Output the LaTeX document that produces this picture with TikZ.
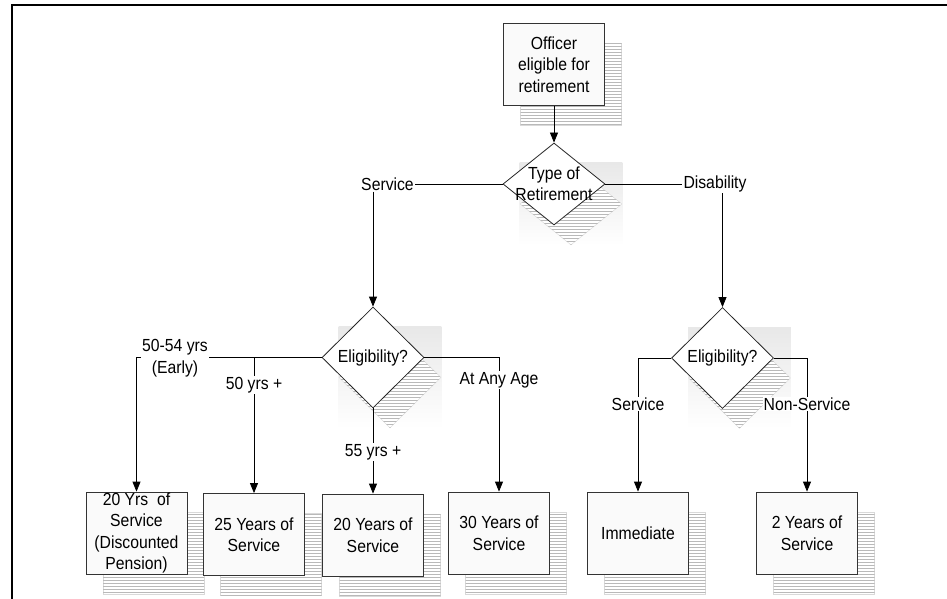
\documentclass[tikz,border=0pt]{standalone}
\usepackage{fontspec}
\setmainfont{Liberation Sans}[FakeStretch=0.9]
\usepackage{tikz}
\usetikzlibrary{shapes.geometric,shadows,patterns,arrows.meta,backgrounds,calc}

\begin{document}
\begin{tikzpicture}[x=1pt,y=-1pt,font=\fontsize{17.5}{21.5}\selectfont,
		hatch_shadow/.style={general shadow={shadow xshift=17pt,shadow yshift=-20pt,fill=white,draw=gray!30,line width=0.4pt},
			general shadow={shadow xshift=17pt,shadow yshift=-20pt,pattern=horizontal lines,pattern color=gray!55}},
		box_style/.style={rectangle,draw=black!80,line width=0.8pt,fill=gray!4,minimum width=101pt,minimum height=82pt,inner sep=0pt,align=center,hatch_shadow},
		dia_style/.style={diamond,draw=black!85,line width=0.8pt,fill=white,minimum width=102pt,minimum height=101pt,inner sep=0pt,hatch_shadow},
		label_style/.style={fill=white,inner sep=1pt,align=center},
		edge_style/.style={draw=black,line width=0.8pt},
		arrow_style/.style={edge_style,-{Triangle[length=10pt,width=8pt]}}]

		\useasboundingbox (0,0) rectangle (947,599);
		\draw[line width=2pt] (11.5,599) -- (11.5,5.5) -- (947,5.5);

		\node[box_style] (n0) at (554,64.5) {Officer\\eligible for\\retirement};
		\node[dia_style,minimum height=82pt,label={[align=center]center:Type of\\Retirement}] (n1) at (554,184) {};
		\node[label_style] (n2) at (387.5,184) {Service};
		\node[label_style] (n3) at (715,184) {Disability};
		\node[dia_style,label={center:Eligibility?}] (n4) at (373,357.5) {};
		\node[dia_style,label={center:Eligibility?}] (n5) at (722.5,358) {};

		\node[box_style] (n6) at (136.5,533) {20 Yrs~ of\\Service\\(Discounted\\Pension)};
		\node[box_style] (n7) at (254,534.5) {25 Years of\\Service};
		\node[box_style] (n8) at (373,535) {20 Years of\\Service};
		\node[box_style] (n9) at (499,533) {30 Years of\\Service};
		\node[box_style] (n10) at (638,533) {Immediate};
		\node[box_style] (n11) at (807,533) {2 Years of\\Service};

		% gradient behind the decision shapes
		\begin{scope}[on background layer]
			\foreach \d in {n1,n4,n5}
				\shade[top color=gray!18,bottom color=white] ($(\d.west |- \d.north)+(17,20)$) rectangle ($(\d.east |- \d.south)+(17,20)$);
		\end{scope}

		\draw[arrow_style] (n0) -- (n1);
		\draw[edge_style] (n1.west) -- (n2.east);
		\draw[edge_style] (n1.east) -- (n3.west);
		\draw[arrow_style] (n2.south -| n4.north) -- (n4.north);
		\draw[arrow_style] (n3.south -| n5.north) -- (n5.north);

		\draw[arrow_style] (n4.west) -| (n6.north);
		\draw[arrow_style] (n4.west -| n7.north) -- (n7.north);
		\draw[arrow_style] (n4.south) -- (n8.north);
		\draw[arrow_style] (n4.east) -| (n9.north);
		\draw[arrow_style] (n5.west) -| (n10.north);
		\draw[arrow_style] (n5.east) -| (n11.north);

		\node[label_style] (l0) at (175,358) {50-54 yrs\\(Early)};
		\node[label_style] (l1) at (254,385) {50 yrs +};
		\node[label_style] (l2) at (373,452) {55 yrs +};
		\node[label_style] (l3) at (499,380) {At Any Age};
		\node[label_style] (l4) at (638,404) {Service};
		\node[label_style] (l5) at (807,404) {Non-Service};

\end{tikzpicture}
\end{document}
